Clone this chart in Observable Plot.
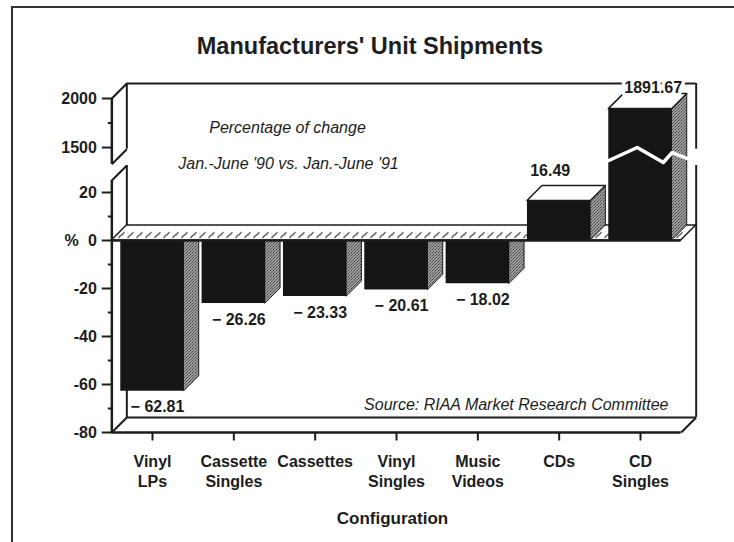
<!DOCTYPE html>
<html><head><meta charset="utf-8">
<script src="https://cdn.jsdelivr.net/npm/d3@7"></script>
<script src="https://cdn.jsdelivr.net/npm/@observablehq/plot@0.6"></script>
<style>
body{margin:0;background:#fff;}
#wrap{position:relative;width:734px;height:542px;overflow:hidden;font-family:"Liberation Sans",Arial,Helvetica,sans-serif;}
#chart{position:absolute;left:0;top:0;}
#chart svg{background:transparent !important;}
#frame{position:absolute;left:11px;top:6px;width:730px;height:540px;border-top:2px solid #333;border-left:2px solid #333;z-index:2;}
#title{position:absolute;left:3px;top:32px;width:734px;text-align:center;font-weight:bold;font-size:23.5px;line-height:28px;color:#1e1e1e;z-index:3;}
</style></head><body>
<svg width="0" height="0" style="position:absolute;left:0;top:0"><defs>
<pattern id="hatch" patternUnits="userSpaceOnUse" x="0" y="0" width="9" height="15">
<rect width="9" height="15" fill="#fff"/>
<path d="M1.5,13 C3,11.5 3,10.5 4.5,10 C6,9.5 6,8.5 7.5,7" stroke="#666" stroke-width="1.4" fill="none"/>
</pattern>
<pattern id="stipple" patternUnits="userSpaceOnUse" width="3" height="3">
<rect width="3" height="3" fill="#9c9c9c"/>
<rect x="0" y="0" width="1" height="1" fill="#444"/>
<rect x="2" y="1" width="1" height="1" fill="#666"/>
<rect x="1" y="2" width="1" height="1" fill="#555"/>
</pattern>
</defs></svg>
<div id="wrap"><div id="chart"></div><div id="frame"></div><div id="title">Manufacturers' Unit Shipments</div></div>
<script>
// ---- data ----
const categories = ["Vinyl\nLPs", "Cassette\nSingles", "Cassettes", "Vinyl\nSingles", "Music\nVideos", "CDs", "CD\nSingles"];
const changes = [-62.81, -26.26, -23.33, -20.61, -18.02, 16.49, 1891.67];
const valueLabels = ["\u2212 62.81", "\u2212 26.26", "\u2212 23.33", "\u2212 20.61", "\u2212 18.02", "16.49", "1891.67"];
const majorTicks = [-80, -60, -40, -20, 0, 20, 1500, 2000];
const majorTickLabels = ["-80", "-60", "-40", "-20", "0", "20", "1500", "2000"];
const minorTicks = [-70, -50, -30, -10, 10, 1750];
const axisBreak = [25, 1330];           // y values where the axis is broken
const zigOffsets = [-0.39, -0.04, 0.28, 0.39, 0.57]; // break zigzag across CD Singles bar (x offsets)
const zigValues = [1368, 1500, 1347, 1449, 1390];   // break zigzag values

// ---- layout ----
const yDomain = [-80, axisBreak[0], axisBreak[1], 2000];
const yRange = [432, 180, 163.7, 98];
const xRange = [111.33, 680.67];
const STEP = (xRange[1] - xRange[0]) / 7;
const DEPTH = 15;
const dU = DEPTH / STEP;
const HW = 0.39;
const yPx = d3.scaleLinear(yDomain, yRange);
const lift = (v, px = DEPTH) => yPx.invert(yPx(v) - px);

const bars = categories.map((c, i) => ({i, c, v: changes[i], label: valueLabels[i]}));
const neg = bars.filter(d => d.v < 0);
const pos = bars.filter(d => d.v >= 0);

const side = arr => arr.flatMap(d => {
  const lo = Math.min(d.v, 0), hi = Math.max(d.v, 0);
  return [{i: d.i, x: d.i + HW, y1: lo, y2: hi}, {i: d.i, x: d.i + HW + dU, y1: lift(lo), y2: lift(hi)}];
});
const tops = pos.flatMap(d => [{i: d.i, y: d.v, x1: d.i - HW, x2: d.i + HW}, {i: d.i, y: lift(d.v), x1: d.i - HW + dU, x2: d.i + HW + dU}]);
const floor = [{y: 0, x1: -0.5, x2: 6.5}, {y: lift(0), x1: -0.5 + dU, x2: 6.5 + dU}];
const segs = [{y1: -80, y2: axisBreak[0]}, {y1: axisBreak[1], y2: 2000}];
const diag = [{x: -0.5, v: 2000}, {x: -0.5, v: axisBreak[1]}, {x: -0.5, v: axisBreak[0]}, {x: -0.5, v: -80}, {x: 6.5, v: -80}];
const cdS = bars[6];
const zig = zigOffsets.map((o, k) => ({x: cdS.i + o, y: zigValues[k]}));

const INK = "#1c1c1c";
const bold = {fontWeight: "bold", fontSize: 16, fill: INK};
const ital = {fontStyle: "italic", fontSize: 16, fill: INK, frameAnchor: "top-left"};
const topLabel = {...bold, x: () => 6.5, y: () => 2000, text: "label", dy: -11, dx: 1, textAnchor: "end"};

const chart = Plot.plot({
  width: 734, height: 542,
  marginTop: 0, marginRight: 0, marginBottom: 0, marginLeft: 0,
  style: {fontFamily: '"Liberation Sans", Arial, Helvetica, sans-serif', background: "transparent"},
  x: {type: "linear", domain: [-0.5, 6.5], range: xRange, axis: null},
  y: {type: "linear", domain: yDomain, range: yRange, axis: null},
  marks: [
    // back wall
    Plot.ruleY([2000, -80], {x1: () => -0.5, x2: () => 6.5, dx: DEPTH, dy: -DEPTH, stroke: INK, strokeWidth: 2}),
    Plot.ruleX(segs, {x: () => -0.5, y1: "y1", y2: "y2", dx: DEPTH, dy: -DEPTH, stroke: INK, strokeWidth: 2}),
    Plot.ruleX(segs, {x: () => 6.5, y1: "y1", y2: "y2", dx: DEPTH, dy: -DEPTH, stroke: INK, strokeWidth: 2}),
    Plot.link(diag, {x1: "x", y1: "v", x2: d => d.x + dU, y2: d => lift(d.v), stroke: INK, strokeWidth: 2}),
    // annotations
    Plot.text(["Percentage of change"], {...ital, dx: 287, dy: 121, textAnchor: "middle"}),
    Plot.text(["Jan.-June '90 vs. Jan.-June '91"], {...ital, dx: 288, dy: 157, textAnchor: "middle"}),
    Plot.text(["Source: RIAA Market Research Committee"], {...ital, dx: 668, dy: 398, textAnchor: "end"}),
    // negative bars
    Plot.areaY(side(neg), {x: "x", y1: "y1", y2: "y2", z: "i", fill: "url(#stipple)", stroke: INK, strokeWidth: 1}),
    Plot.rect(neg, {x1: d => d.i - HW, x2: d => d.i + HW, y1: () => 0, y2: "v", fill: "#151515"}),
    // floor at 0
    Plot.areaX(floor, {y: "y", x1: "x1", x2: "x2", fill: "url(#hatch)", stroke: INK, strokeWidth: 1.5}),
    Plot.ruleY([0], {x1: () => -0.5, x2: () => 6.5, stroke: INK, strokeWidth: 2.5}),
    // positive bars
    Plot.areaY(side(pos), {x: "x", y1: "y1", y2: "y2", z: "i", fill: "url(#stipple)", stroke: INK, strokeWidth: 1}),
    Plot.rect(pos, {x1: d => d.i - HW, x2: d => d.i + HW, y1: () => 0, y2: "v", fill: "#151515"}),
    Plot.areaX(tops, {y: "y", x1: "x1", x2: "x2", z: "i", fill: "white", stroke: INK, strokeWidth: 1.5}),
    Plot.line(zig, {x: "x", y: "y", stroke: "white", strokeWidth: 3.5}),
    // front axis frame
    Plot.ruleX(segs, {x: () => -0.5, y1: "y1", y2: "y2", stroke: INK, strokeWidth: 2.5}),
    Plot.ruleY([-80], {x1: () => -0.5, x2: () => 6.5, stroke: INK, strokeWidth: 2.5}),
    // y ticks and labels
    Plot.link(majorTicks, {x1: () => -0.5 - 10 / STEP, x2: () => -0.5, y1: d => d, y2: d => d, stroke: INK, strokeWidth: 2}),
    Plot.link(minorTicks, {x1: () => -0.5 - 4 / STEP, x2: () => -0.5, y1: d => d, y2: d => d, stroke: INK, strokeWidth: 2}),
    Plot.text(majorTicks, {...bold, x: () => -0.5, y: d => d, text: (d, i) => majorTickLabels[i], dx: -15, textAnchor: "end"}),
    Plot.text(["%"], {...bold, x: () => -0.5, y: () => 0, dx: -33, textAnchor: "end"}),
    // x ticks and labels
    Plot.link(bars, {x1: "i", x2: "i", y1: () => -80, y2: () => lift(-80, -8), stroke: INK, strokeWidth: 2}),
    Plot.text(bars, {...bold, x: "i", y: () => -80, text: "c", lineAnchor: "top", dy: 20, lineHeight: 1.25}),
    Plot.text(["Configuration"], {...bold, fontSize: 17, x: () => 3, y: () => -80, dy: 86, dx: -4}),
    // value labels
    Plot.text(neg, {...bold, x: "i", y: "v", text: "label", dy: 16, dx: 5}),
    Plot.text([bars[5]], {...bold, x: "i", y: "v", text: "label", dy: -30, dx: -9}),
    Plot.text([cdS], {...topLabel, fill: "white", stroke: "white", strokeWidth: 7}),
    Plot.text([cdS], topLabel)
  ]
});
document.getElementById("chart").appendChild(chart);
</script>
</body></html>
